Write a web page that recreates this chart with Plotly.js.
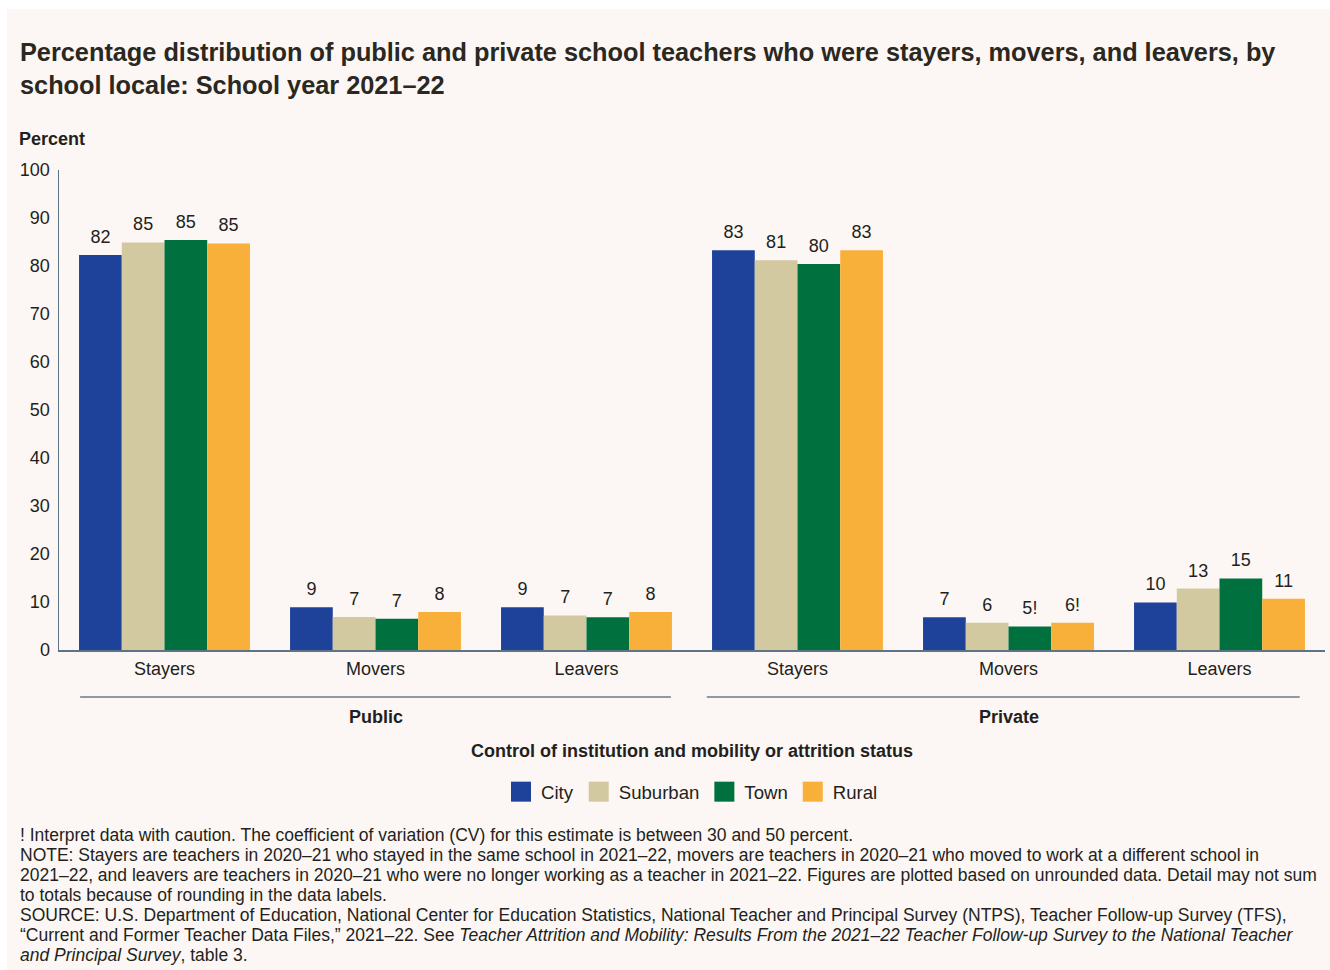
<!DOCTYPE html>
<html>
<head>
<meta charset="utf-8">
<script src="https://cdn.plot.ly/plotly-3.0.1.min.js"></script>
<style>
  html, body { margin: 0; padding: 0; background: #ffffff; }
  #chart { position: absolute; left: 7px; top: 9px; width: 1323px; height: 961px; }
</style>
</head>
<body>
<div id="chart"></div>
<script>
// ---- data ----
const locales = ['City', 'Suburban', 'Town', 'Rural'];
const categories = ['Stayers', 'Movers', 'Leavers', 'Stayers', 'Movers', 'Leavers'];
const categoryPositions = [0, 1, 2, 3, 4, 5];
const groups = ['Public', 'Private'];

const cityValues     = [82.3, 8.9, 8.9, 83.3, 6.8, 9.9];
const suburbanValues = [84.9, 6.9, 7.2, 81.2, 5.7, 12.8];
const townValues     = [85.4, 6.5, 6.8, 80.4, 4.9, 14.9];
const ruralValues    = [84.7, 7.9, 7.9, 83.3, 5.7, 10.7];

const cityLabels     = ['82', '9', '9', '83', '7', '10'];
const suburbanLabels = ['85', '7', '7', '81', '6', '13'];
const townLabels     = ['85', '7', '7', '80', '5!', '15'];
const ruralLabels    = ['85', '8', '8', '83', '6!', '11'];

const yTickValues = [0, 10, 20, 30, 40, 50, 60, 70, 80, 90, 100];

const titleText = 'Percentage distribution of public and private school teachers who were stayers, movers, and leavers, by<br>school locale: School year 2021–22';
const yAxisLabel = 'Percent';
const xAxisLabel = 'Control of institution and mobility or attrition status';
const noteLines = [
  '! Interpret data with caution. The coefficient of variation (CV) for this estimate is between 30 and 50 percent.',
  'NOTE: Stayers are teachers in 2020–21 who stayed in the same school in 2021–22, movers are teachers in 2020–21 who moved to work at a different school in',
  '2021–22, and leavers are teachers in 2020–21 who were no longer working as a teacher in 2021–22. Figures are plotted based on unrounded data. Detail may not sum',
  'to totals because of rounding in the data labels.',
  'SOURCE: U.S. Department of Education, National Center for Education Statistics, National Teacher and Principal Survey (NTPS), Teacher Follow-up Survey (TFS),',
  '“Current and Former Teacher Data Files,” 2021–22. See <i>Teacher Attrition and Mobility: Results From the 2021–22 Teacher Follow-up Survey to the National Teacher</i>',
  '<i>and Principal Survey</i>, table 3.'
];

// ---- style ----
const colors = ['#1e429a', '#d3c9a0', '#00703f', '#f9b03b'];
const FONT = 'Liberation Sans, Arial, Helvetica, sans-serif';
const TEXT = '#231f20';
const BG = '#fcf7f4';
const AXIS = '#5c7486';
const GROUPLINE = '#8e9aa3';
const PLOT_H = 480;

const seriesValues = [cityValues, suburbanValues, townValues, ruralValues];
const seriesLabels = [cityLabels, suburbanLabels, townLabels, ruralLabels];

const traces = locales.map((name, i) => ({
  type: 'bar',
  name: name,
  x: categoryPositions,
  y: seriesValues[i],
  text: seriesLabels[i],
  textposition: 'outside',
  textfont: { family: FONT, size: 18, color: TEXT },
  cliponaxis: false,
  marker: { color: colors[i], line: { width: 0 } },
  hoverinfo: 'name+y'
}));

const groupSpans = [[-0.40, 2.40], [2.57, 5.38]];
const groupCenters = [1, 4];

const shapes = groupSpans.map(s => ({
  type: 'line', xref: 'x', yref: 'paper',
  x0: s[0], x1: s[1], y0: -0.098, y1: -0.098,
  line: { color: GROUPLINE, width: 2 }
}));

const annotations = [];
groups.forEach((g, i) => annotations.push({
  text: '<b>' + g + '</b>', xref: 'x', yref: 'paper',
  x: groupCenters[i], y: -0.14, yanchor: 'middle', showarrow: false,
  font: { family: FONT, size: 18, color: TEXT }
}));
annotations.push({
  text: '<b>' + yAxisLabel + '</b>', xref: 'paper', yref: 'paper',
  x: -0.0308, y: 1.0, xanchor: 'left', yanchor: 'bottom', xshift: -3, yshift: 19, showarrow: false,
  font: { family: FONT, size: 18, color: TEXT }
});
annotations.push({
  text: '<b>' + xAxisLabel + '</b>', xref: 'paper', yref: 'paper',
  x: 0.5, y: -0.21, xanchor: 'center', yanchor: 'middle', showarrow: false,
  font: { family: FONT, size: 18, color: TEXT }
});
noteLines.forEach((line, i) => annotations.push({
  text: line, xref: 'paper', yref: 'paper',
  x: -0.0308, y: (650 - 835 - 20 * i) / PLOT_H, xanchor: 'left', yanchor: 'middle',
  xshift: -2, align: 'left', showarrow: false,
  font: { family: FONT, size: 17.5, color: TEXT }
}));

const layout = {
  width: 1323, height: 961,
  paper_bgcolor: BG, plot_bgcolor: BG,
  margin: { l: 52, r: 5, t: 161, b: 320 },
  font: { family: FONT, color: TEXT },
  title: {
    text: '<b>' + titleText + '</b>',
    xref: 'container', yref: 'container',
    x: 13 / 1323, xanchor: 'left',
    y: 1 - 52 / 961, yanchor: 'top',
    font: { family: FONT, size: 25.3, color: '#2a2820' }
  },
  barmode: 'group',
  bargap: 0.19,
  bargroupgap: 0,
  showlegend: true,
  legend: {
    orientation: 'h', xref: 'paper', yref: 'paper',
    x: 0.5, xanchor: 'center', y: -0.296, yanchor: 'middle',
    font: { family: FONT, size: 18.6, color: TEXT },
    bgcolor: 'rgba(0,0,0,0)', traceorder: 'normal'
  },
  xaxis: {
    range: [-0.5, 5.5], tickmode: 'array', tickvals: categoryPositions, ticktext: categories,
    showline: true, linecolor: AXIS, linewidth: 2, showgrid: false, zeroline: false,
    ticks: '', ticklabelstandoff: 1,
    tickfont: { family: FONT, size: 18, color: TEXT }, fixedrange: true
  },
  yaxis: {
    range: [0, 100], tickmode: 'array', tickvals: yTickValues,
    showline: true, linecolor: AXIS, linewidth: 1.5, showgrid: false, zeroline: false,
    ticks: '', ticklabelstandoff: 4,
    tickfont: { family: FONT, size: 18, color: TEXT }, fixedrange: true
  },
  shapes: shapes,
  annotations: annotations
};

Plotly.newPlot('chart', traces, layout, { displayModeBar: false, staticPlot: true }).then(gd => {
  // enlarge legend swatches to match reference squares
  gd.querySelectorAll('.legend .legendpoints path').forEach(p => {
    p.setAttribute('d', 'M10,10H-10V-10H10Z');
  });
  // lift outside bar labels a little higher above the bars
  gd.querySelectorAll('.bars .point text').forEach(t => {
    const tr = t.getAttribute('transform') || '';
    t.setAttribute('transform', 'translate(0,-5) ' + tr);
  });
});
</script>
</body>
</html>
